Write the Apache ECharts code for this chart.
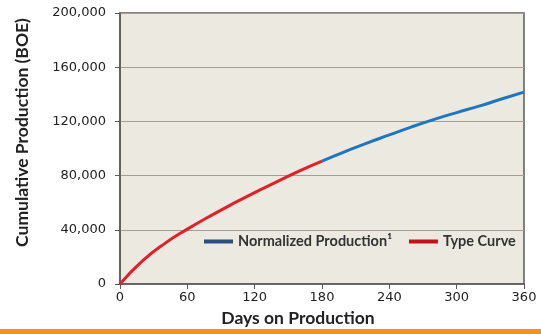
<!DOCTYPE html>
<html><head><meta charset="utf-8">
<script src="https://cdn.jsdelivr.net/npm/echarts@6/dist/echarts.min.js"></script>
<style>html,body{margin:0;padding:0;background:#fff}#c{width:541px;height:334px}</style>
</head><body><div id="c"></div>
<script>
const xTicks = [0, 60, 120, 180, 240, 300, 360];
const yTicks = [0, 40000, 80000, 120000, 160000, 200000];
const typeDays = [0, 20, 40, 60, 80, 100, 120, 140, 160, 180];
const typeValues = [0, 17000, 30000, 40500, 50000, 59000, 67500, 75500, 83500, 90700];
const normDays = [180, 200, 220, 240, 260, 280, 300, 320, 340, 360];
const normValues = [90700, 97500, 104000, 110000, 116000, 121500, 126500, 131300, 136500, 141600];
const seriesNames = ['Normalized Production¹', 'Type Curve'];

const chart = echarts.init(document.getElementById('c'), null, {renderer: 'canvas'});
const fmt = v => v.toLocaleString('en-US');
chart.setOption({
  animation: false,
  grid: {left: 120, right: 17, top: 13, bottom: 50, show: true, backgroundColor: '#ECE9E0', borderColor: '#5a5a5a', borderWidth: 1.5},
  legend: {
    left: 199, top: 229, itemWidth: 29, itemHeight: 4, itemGap: 17, icon: 'rect',
    textStyle: {fontFamily: 'Lato', fontWeight: 'bold', fontSize: 14.5, color: '#333'},
    data: [
      {name: seriesNames[0], itemStyle: {color: '#2D4F80'}},
      {name: seriesNames[1], itemStyle: {color: '#C0141C'}}
    ]
  },
  xAxis: {
    type: 'value', min: xTicks[0], max: xTicks[xTicks.length-1], interval: 60,
    name: 'Days on Production', nameLocation: 'middle', nameGap: 25,
    nameTextStyle: {fontFamily: 'Lato', fontWeight: 'bold', fontSize: 17.5, color: '#222', padding: [0, 48, 0, 0]},
    axisLine: {show: true, lineStyle: {color: '#5a5a5a', width: 1.5}},
    axisTick: {show: true, length: 5, lineStyle: {color: '#5a5a5a'}},
    axisLabel: {fontFamily: 'DejaVu Sans', fontSize: 13, color: '#222', margin: 7},
    splitLine: {show: false}
  },
  yAxis: {
    type: 'value', min: yTicks[0], max: yTicks[yTicks.length-1], interval: 40000,
    name: 'Cumulative Production (BOE)', nameLocation: 'middle', nameGap: 89, nameRotate: 90,
    nameTextStyle: {fontFamily: 'Lato', fontWeight: 'bold', fontSize: 17.5, color: '#222', padding: [0, 0, 0, 32]},
    axisLine: {show: true, lineStyle: {color: '#5a5a5a', width: 1.5}},
    axisTick: {show: true, length: 5, lineStyle: {color: '#5a5a5a'}},
    axisLabel: {fontFamily: 'DejaVu Sans', fontSize: 13, color: '#222', margin: 14, formatter: fmt},
    splitLine: {show: true, lineStyle: {color: '#A39F95', width: 1.2}}
  },
  series: [
    {name: seriesNames[0], type: 'line', smooth: true, showSymbol: false, symbol: 'none',
     data: normDays.map((d, i) => [d, normValues[i]]),
     lineStyle: {color: '#1E76C0', width: 3}, itemStyle: {color: '#1E76C0'}},
    {name: seriesNames[1], type: 'line', smooth: true, showSymbol: false, symbol: 'none',
     data: typeDays.map((d, i) => [d, typeValues[i]]),
     lineStyle: {color: '#E0202A', width: 3}, itemStyle: {color: '#E0202A'}}
  ],
  graphic: [{type: 'rect', left: 0, top: 329, shape: {width: 541, height: 5}, style: {fill: '#F29419'}}]
});
</script></body></html>
